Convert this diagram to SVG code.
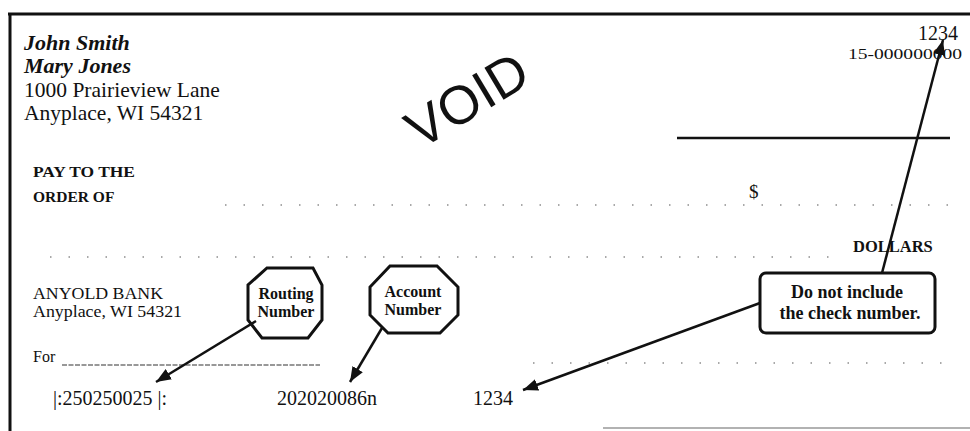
<svg xmlns="http://www.w3.org/2000/svg" width="970" height="431" viewBox="0 0 970 431">
<style>
.serif{font-family:"Liberation Serif","Times New Roman",serif;fill:#111}
.bi{font-weight:bold;font-style:italic}
.b{font-weight:bold}
.border{stroke:#111;stroke-width:3;fill:none}
.dots{stroke:#555;stroke-width:1.2;stroke-dasharray:1.5 17;fill:none}
.node{fill:#fff;stroke:#111;stroke-width:3}
.conn{stroke:#111;stroke-width:2.5;fill:none;marker-end:url(#ah)}
.call{font-family:"Liberation Serif","Times New Roman",serif;font-weight:bold;fill:#111;text-anchor:middle}
</style>
<defs>
<marker id="ah" markerUnits="userSpaceOnUse" markerWidth="16" markerHeight="12" refX="15" refY="6" orient="auto">
<path d="M0,0 L15,6 L0,12 Z" fill="#111"/>
</marker>
</defs>
<rect width="970" height="431" fill="#fff"/>
<!-- check border -->
<line class="border" x1="8" y1="14" x2="970" y2="14"/>
<line class="border" x1="10" y1="13" x2="10" y2="431"/>
<line x1="603" y1="428" x2="970" y2="428" stroke="#999" stroke-width="1.5"/>

<!-- header text -->
<text class="serif bi" x="24" y="50" font-size="22">John Smith</text>
<text class="serif bi" x="24" y="73" font-size="22">Mary Jones</text>
<text class="serif" x="24" y="97" font-size="21.5">1000 Prairieview Lane</text>
<text class="serif" x="24" y="120" font-size="21.5">Anyplace, WI  54321</text>

<text x="0" y="0" font-family="Liberation Sans, Arial, sans-serif" font-size="54" fill="#111" transform="translate(420,150) rotate(-31)">VOID</text>

<text class="serif" x="958" y="40" font-size="20" text-anchor="end">1234</text>
<text class="serif" x="848" y="59" font-size="14" textLength="114" lengthAdjust="spacingAndGlyphs">15-000000000</text>
<line x1="677" y1="138" x2="950" y2="138" stroke="#111" stroke-width="2.5"/>

<text class="serif b" x="33" y="177" font-size="15.5" textLength="102" lengthAdjust="spacingAndGlyphs">PAY TO THE</text>
<text class="serif b" x="33" y="202" font-size="15.5">ORDER OF</text>
<line class="dots" x1="225" y1="205" x2="960" y2="205"/>
<text class="serif" x="749" y="198" font-size="19">$</text>

<line class="dots" x1="50" y1="257" x2="830" y2="257"/>
<text class="serif b" x="853" y="252" font-size="16.5">DOLLARS</text>

<text class="serif" x="33" y="299" font-size="16" textLength="130" lengthAdjust="spacingAndGlyphs">ANYOLD BANK</text>
<text class="serif" x="33" y="317" font-size="16" textLength="149" lengthAdjust="spacingAndGlyphs">Anyplace, WI  54321</text>

<text class="serif" x="33" y="362" font-size="16">For</text>
<line x1="62" y1="365" x2="320" y2="365" stroke="#333" stroke-width="1.2" stroke-dasharray="5 1.5"/>
<line class="dots" x1="533" y1="363" x2="945" y2="363"/>

<text class="serif" x="53" y="405" font-size="20">|:250250025 |:</text>
<text class="serif" x="277" y="405" font-size="20">202020086n</text>
<text class="serif" x="473" y="405" font-size="20">1234</text>

<!-- nodes -->
<g id="routing-number">
<polygon class="node" points="267,268 313,268 322,285 322,320 308,338 262,338 248,320 248,285"/>
<text class="call" x="286" y="299" font-size="16">Routing</text>
<text class="call" x="286" y="317" font-size="16">Number</text>
</g>
<g id="account-number">
<polygon class="node" points="390,266 437,266 458,287 458,315 440,333 388,333 370,315 370,287"/>
<text class="call" x="413" y="297" font-size="16">Account</text>
<text class="call" x="413" y="315" font-size="16">Number</text>
</g>
<g id="check-number-note">
<rect class="node" x="760" y="273" width="175" height="60" rx="6"/>
<text class="call" x="847" y="298" font-size="18">Do not include</text>
<text class="call" x="850" y="319" font-size="18">the check number.</text>
</g>

<!-- connectors -->
<g id="connectors">
<line class="conn" x1="256" y1="321" x2="156" y2="382"/>
<line class="conn" x1="382" y1="328" x2="350" y2="382"/>
<line class="conn" x1="760" y1="303" x2="523" y2="390"/>
<line class="conn" x1="882" y1="273" x2="943" y2="40"/>
</g>
</svg>
